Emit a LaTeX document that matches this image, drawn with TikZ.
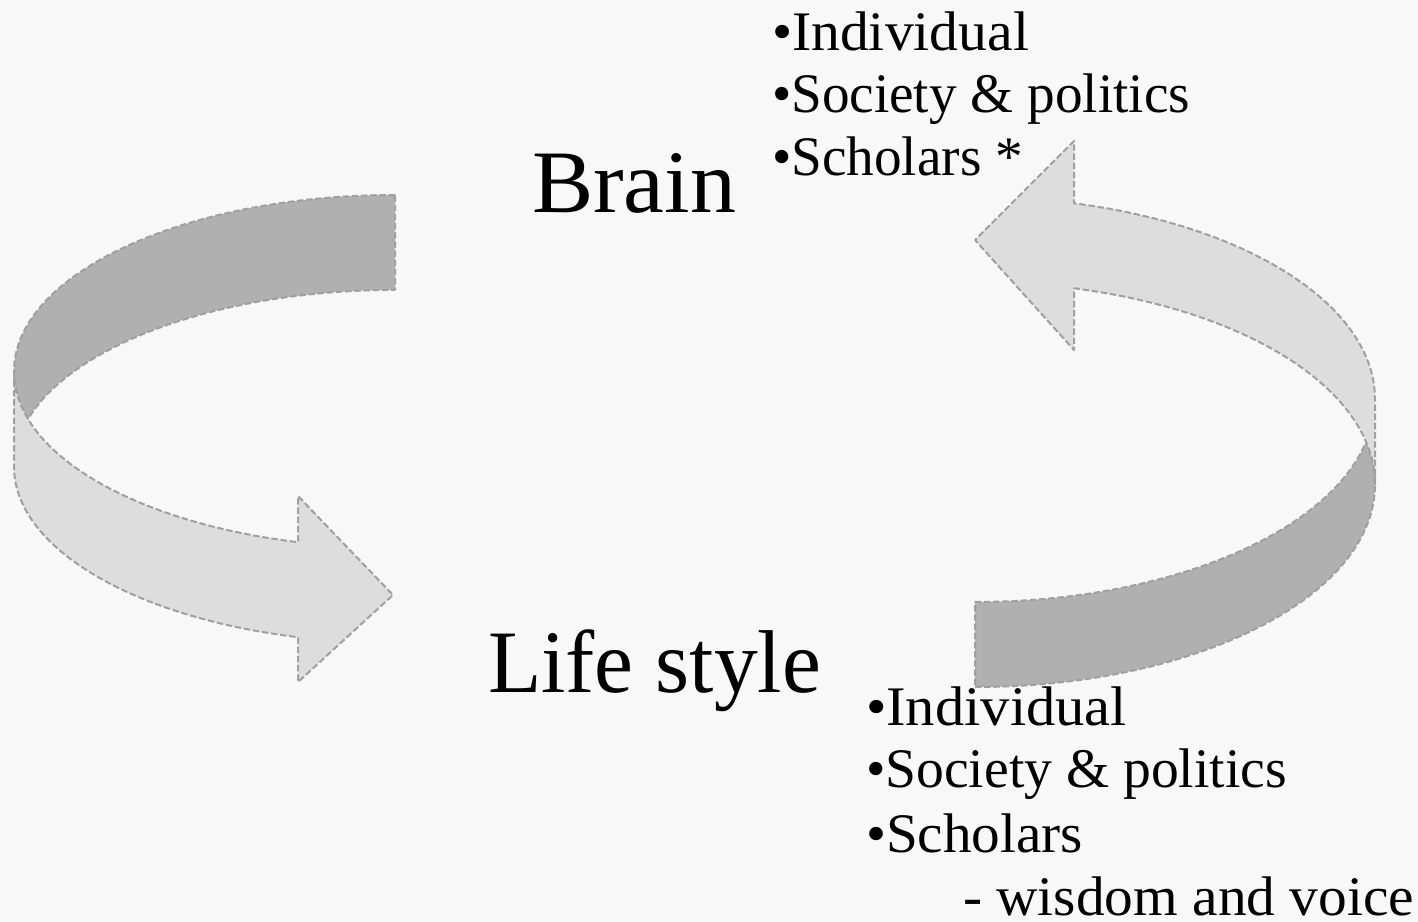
\documentclass[tikz,border=0pt]{standalone}
\usepackage{fontspec}
\setmainfont{Liberation Serif}
\usepackage{graphicx}
\definecolor{bgcol}{HTML}{F8F8F8}
\definecolor{ribdark}{HTML}{B0B0B0}
\definecolor{riblight}{HTML}{DDDDDD}
\definecolor{ribline}{HTML}{A0A0A0}
\newcommand{\bigtxt}{\fontsize{44.6}{50}\selectfont}
\newcommand{\listtxt}{\fontsize{27.9}{32}\selectfont}
\tikzset{
  ribbon/.style={draw=ribline, line width=1pt, dash pattern=on 3.2pt off 1.4pt, line join=round},
  backface/.style={ribbon, fill=ribdark},
  frontface/.style={ribbon, fill=riblight},
  lbl/.style={inner sep=0pt, outer sep=0pt, anchor=base west, text=black},
  lell/.style={x radius=381, y radius=176.5},
  rell/.style={x radius=400, y radius=202.5}
}
\begin{document}
\begin{tikzpicture}[x=0.5pt, y=-0.5pt]
\useasboundingbox (0,0) rectangle (1418,921);
\fill[bgcol] (0,0) rectangle (1418,921);

% left arrow: back (dark) part
\draw[backface] (395,195)
  arc[start angle=270, end angle=180, lell]
  arc[start angle=180, end angle=164.4, lell]
  arc[start angle=195.6, end angle=270, lell]
  -- cycle;
% left arrow: front (light) part with head
\draw[frontface] (14,371.5) -- (14,466.5)
  arc[start angle=180, end angle=104.75, lell]
  -- (298,682) -- (393,595) -- (298,496) -- (298,542.2)
  arc[start angle=104.75, end angle=180, lell]
  -- cycle;

% right arrow: back (dark) part
\draw[backface] (975,687)
  arc[start angle=90, end angle=0, rell]
  arc[start angle=0, end angle=-12.12, rell]
  arc[start angle=12.12, end angle=90, rell]
  -- cycle;
% right arrow: front (light) part with head
\draw[frontface] (1375,484.5) -- (1375,399.5)
  arc[start angle=0, end angle=-75.67, rell]
  -- (1074,141) -- (975,240) -- (1074,350) -- (1074,288.3)
  arc[start angle=-75.67, end angle=0, rell]
  -- cycle;

% labels
\node[lbl] (brain) at (532,212) {\resizebox{102pt}{\height}{\bigtxt Brain}};
\node[lbl] (life) at (488,692) {\resizebox{166.5pt}{\height}{\bigtxt Life style}};

\node[lbl] (t1) at (772,50) {\resizebox{128.5pt}{\height}{\listtxt •Individual}};
\node[lbl] (t2) at (772,112) {\resizebox{209pt}{\height}{\listtxt •Society \& politics}};
\node[lbl] (t3) at (772,175) {\resizebox{125.5pt}{\height}{\listtxt •Scholars *}};

\node[lbl] (b1) at (866,725) {\resizebox{130.5pt}{\height}{\listtxt •Individual}};
\node[lbl] (b2) at (866,787) {\resizebox{210.5pt}{\height}{\listtxt •Society \& politics}};
\node[lbl] (b3) at (866,852) {\resizebox{108.5pt}{\height}{\listtxt •Scholars}};
\node[lbl] (b4) at (963,915) {\resizebox{225.5pt}{\height}{\listtxt - wisdom and voice}};
\end{tikzpicture}
\end{document}
